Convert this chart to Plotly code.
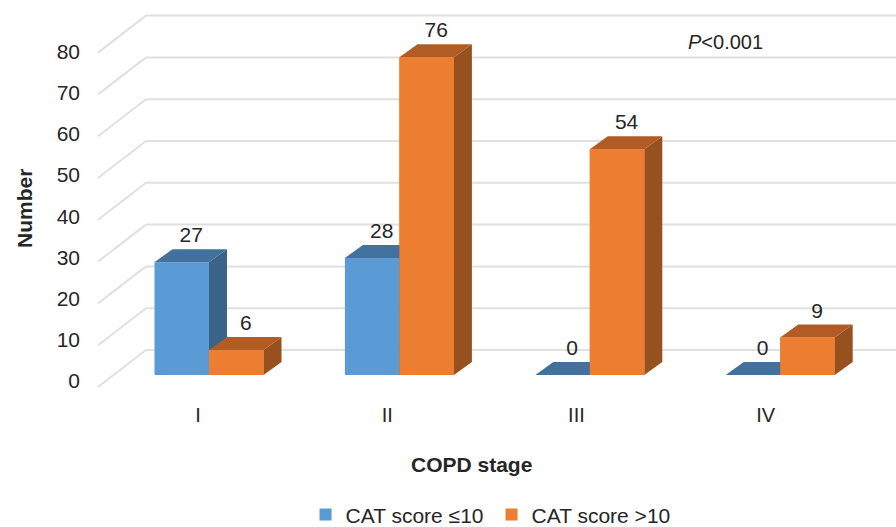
import plotly.graph_objects as go

# --- data ---
stages = ["I", "II", "III", "IV"]
cat_low = [27, 28, 0, 0]
cat_high = [6, 76, 54, 9]
y_ticks = [0, 10, 20, 30, 40, 50, 60, 70, 80]
name_low = "CAT score ≤10"
name_high = "CAT score >10"

# --- oblique projection, in axis units ---
W, H = 896, 527
PX_X = 190.4      # pixels per category
PX_Y = 4.18       # pixels per value unit
X0 = 209.0        # pixel of first category centre
Y0 = 375.0        # pixel of value 0 at the bar front
BAR_W = 54.5 / PX_X
DX = 18 / PX_X    # bar depth
DY = 13 / PX_Y
WALL_DY = 25 / PX_Y          # wall floor above bar front
FRONT_DY = -12 / PX_Y        # front grid end below bar front
WALL_X = (146 - X0) / PX_X
FRONT_X = (98 - X0) / PX_X
XR = [(0 - X0) / PX_X, (W - X0) / PX_X]
YR = [(Y0 - H) / PX_Y, Y0 / PX_Y]

BLUE = ("#5b9bd5", "#41719c", "#3a6389")
ORANGE = ("#ed7d31", "#b25c25", "#97511f")
TXT = "#262626"
FONT = "Liberation Sans, Arial, sans-serif"

fig = go.Figure()

# real bars: front faces and legend swatches
for vals, cols, name, off in [(cat_low, BLUE, name_low, -BAR_W), (cat_high, ORANGE, name_high, 0)]:
    fig.add_trace(go.Bar(x=list(range(len(stages))), y=vals, width=BAR_W, offset=off,
                         marker=dict(color=cols[0], line=dict(width=0)), name=name))


def face(xs, ys, color):
    fig.add_trace(go.Scatter(x=xs, y=ys, mode="lines", fill="toself", fillcolor=color,
                             line=dict(width=0, color=color), showlegend=False, hoverinfo="skip"))


def box_faces(left, v, cols, redraw_front):
    right = left + BAR_W
    face([right, right + DX, right + DX, right, right], [0, DY, v + DY, v, 0], cols[2])
    face([left, left + DX, right + DX, right, left], [v, v + DY, v + DY, v, v], cols[1])
    if redraw_front:
        face([left, right, right, left, left], [0, 0, v, v, 0], cols[0])


for i in range(len(stages)):
    box_faces(i - BAR_W, cat_low[i], BLUE, False)
    box_faces(i, cat_high[i], ORANGE, True)

# data labels
label_x, label_y, label_t = [], [], []
for i in range(len(stages)):
    label_x += [i - BAR_W / 2 + 0.05, i + BAR_W / 2 + 0.05]
    label_y += [cat_low[i] + 6.0, cat_high[i] + 6.0]
    label_t += [str(cat_low[i]), str(cat_high[i])]
fig.add_trace(go.Scatter(x=label_x, y=label_y, text=label_t, mode="text", textposition="middle center",
                         textfont=dict(size=21, color=TXT, family=FONT), showlegend=False, hoverinfo="skip"))

# carrier for the label axes
fig.add_trace(go.Scatter(x=list(range(len(stages))), y=y_ticks[:len(stages)], xaxis="x2", yaxis="y2",
                         mode="markers", marker=dict(opacity=0), showlegend=False, hoverinfo="skip"))

# grid on wall and floor
shapes = []
grid = dict(type="line", xref="x", yref="y", layer="below", line=dict(color="#e0e0e0", width=2))
for t in y_ticks:
    shapes.append(dict(grid, x0=FRONT_X, x1=WALL_X, y0=t + FRONT_DY, y1=t + WALL_DY))
    shapes.append(dict(grid, x0=WALL_X, x1=XR[1], y0=t + WALL_DY, y1=t + WALL_DY))

fig.update_layout(
    width=W, height=H, margin=dict(l=0, r=0, t=0, b=0, autoexpand=False),
    paper_bgcolor="white", plot_bgcolor="rgba(0,0,0,0)", shapes=shapes,
    barmode="overlay", showlegend=True,
    font=dict(family=FONT, color=TXT, size=20),
    xaxis=dict(range=XR, domain=[0, 1], visible=False, fixedrange=True),
    yaxis=dict(range=YR, domain=[0, 1], visible=False, fixedrange=True),
    xaxis2=dict(overlaying="x", anchor="free", position=(H - 401) / H, side="bottom",
                range=[-198 / 189.2, (W - 198) / 189.2], showgrid=False, zeroline=False, showline=False,
                tickvals=list(range(len(stages))), ticktext=stages, ticks="", tickfont=dict(size=20, color=TXT)),
    yaxis2=dict(overlaying="y", anchor="free", position=80 / W, side="left",
                range=[(381 - H) / 4.12, 381 / 4.12], showgrid=False, zeroline=False, showline=False,
                tickvals=y_ticks, ticks="", tickfont=dict(size=21, color=TXT)),
    legend=dict(orientation="h", x=0.341, xanchor="left", y=0.062, yanchor="top", traceorder="normal",
                font=dict(size=21, color=TXT), entrywidth=141, entrywidthmode="pixels",
                bgcolor="rgba(0,0,0,0)"),
    annotations=[
        dict(text="<i>P</i><0.001", xref="paper", yref="paper", x=725 / W, y=1 - 42 / H, showarrow=False,
             xanchor="center", yanchor="middle", font=dict(size=20, color=TXT)),
        dict(text="<b>COPD stage</b>", xref="paper", yref="paper", x=471 / W, y=1 - 464 / H, showarrow=False,
             xanchor="center", yanchor="middle", font=dict(size=21, color=TXT)),
        dict(text="<b>Number</b>", xref="paper", yref="paper", x=24 / W, y=1 - 209 / H, showarrow=False,
             xanchor="center", yanchor="middle", textangle=-90, font=dict(size=21, color=TXT)),
    ],
)

fig.write_html("out.html", config={"displayModeBar": False},
               post_script="document.body.style.margin='0';")
